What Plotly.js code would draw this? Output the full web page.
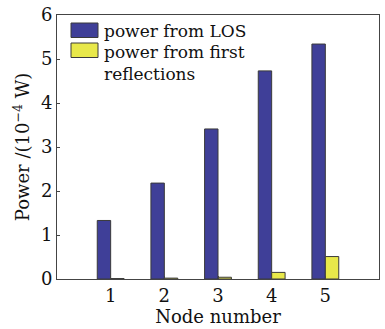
<!DOCTYPE html>
<html>
<head>
<meta charset="utf-8">
<script src="https://cdn.plot.ly/plotly-3.0.1.min.js"></script>
<style>html,body{margin:0;padding:0;background:#fff;}#chart{width:385px;height:329px;}</style>
</head>
<body>
<div id="chart"></div>
<script>
const nodes = [1, 2, 3, 4, 5];
const losPower = [1.33, 2.18, 3.41, 4.73, 5.34];
const reflPower = [0.01, 0.02, 0.04, 0.15, 0.51];
const seriesNames = ['power from LOS', 'power from first<br>reflections'];
const seriesColors = ['#3f3f98', '#e8e84a'];
const yTicks = [0, 1, 2, 3, 4, 5, 6];
const xTicks = [1, 2, 3, 4, 5];

const font = 'DejaVu Serif, serif';
const traces = [
  {type: 'bar', x: nodes, y: losPower, name: seriesNames[0],
   marker: {color: seriesColors[0], line: {color: '#3a3a3a', width: 1}}},
  {type: 'bar', x: nodes, y: reflPower, name: seriesNames[1],
   marker: {color: seriesColors[1], line: {color: '#3a3a3a', width: 1}}}
];

// legend drawn manually (larger swatches like the reference)
const plotW = 322, plotH = 264;
const px = v => v / plotW, py = v => 1 - v / plotH;
const shapes = [], annotations = [];
const swTop = [8, 28];
seriesNames.forEach((name, i) => {
  shapes.push({type: 'rect', xref: 'paper', yref: 'paper',
    x0: px(14), x1: px(41), y0: py(swTop[i]), y1: py(swTop[i] + 14.5),
    fillcolor: seriesColors[i], line: {color: '#3a3a3a', width: 1}});
});
annotations.push({xref: 'paper', yref: 'paper', x: px(46), y: py(15.5),
  xanchor: 'left', yanchor: 'middle', align: 'left', showarrow: false, borderpad: 0,
  text: seriesNames[0], font: {family: font, size: 17, color: '#111'}});
annotations.push({xref: 'paper', yref: 'paper', x: px(46), y: py(25.5),
  xanchor: 'left', yanchor: 'top', align: 'left', showarrow: false, borderpad: 0,
  text: seriesNames[1], font: {family: font, size: 17, color: '#111'}});

const layout = {
  width: 385, height: 329,
  margin: {l: 57, r: 6, t: 15, b: 50},
  paper_bgcolor: '#fff', plot_bgcolor: '#fff',
  barmode: 'group', bargap: 0.5, bargroupgap: 0,
  font: {family: font, color: '#111', size: 17},
  showlegend: false,
  shapes: shapes, annotations: annotations,
  xaxis: {range: [0, 6], tickvals: xTicks, ticktext: xTicks.map(String),
          ticks: 'inside', ticklen: 3, tickcolor: '#444', showline: true, linecolor: '#444',
          linewidth: 1, mirror: true, showgrid: false, zeroline: false,
          tickfont: {size: 18}, title: {text: 'Node number', font: {size: 18}, standoff: 4}},
  yaxis: {range: [0, 6], tickvals: yTicks, ticks: 'inside', ticklen: 3, tickcolor: '#444',
          showline: true, linecolor: '#444', linewidth: 1, mirror: true, showgrid: false,
          zeroline: false, tickfont: {size: 18},
          title: {text: 'Power /(10<sup>\u22124</sup> W)', font: {size: 18}, standoff: 6}}
};
Plotly.newPlot('chart', traces, layout, {displayModeBar: false, staticPlot: true});
</script>
</body>
</html>
